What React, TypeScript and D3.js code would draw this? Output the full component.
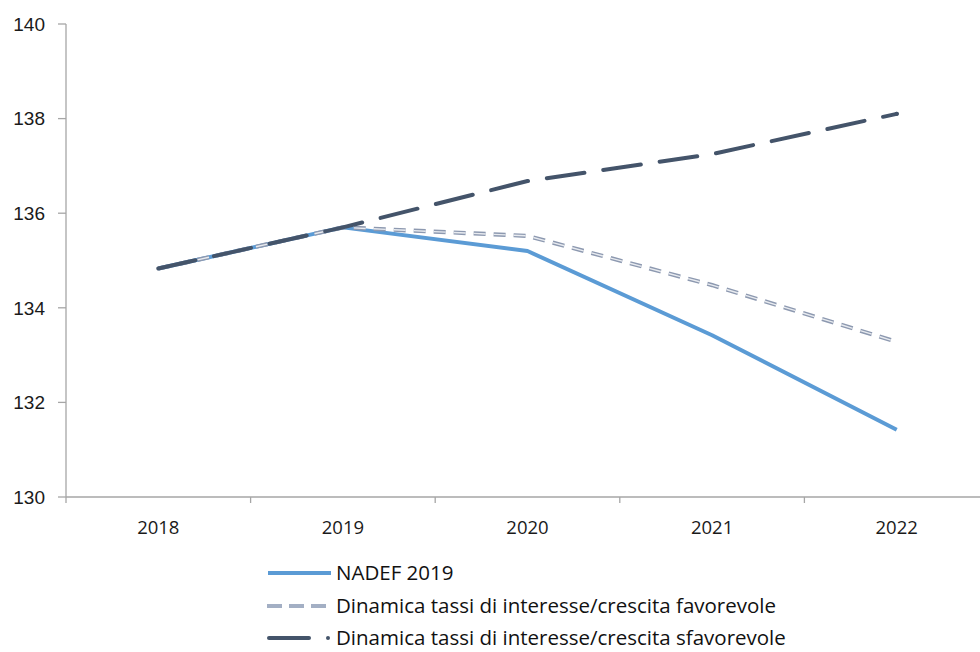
import React from "react";
import * as d3 from "d3";

const years = ["2018", "2019", "2020", "2021", "2022"];
const nadef = [134.83, 135.7, 135.2, 133.42, 131.42];
const favorevole = [134.83, 135.7, 135.52, 134.48, 133.28];
const sfavorevole = [134.83, 135.7, 136.68, 137.25, 138.1];
const yTicks = [130, 132, 134, 136, 138, 140];

const W = 980, H = 652;
const left = 66, top = 24, bottom = 497, right = 989;

export default function App() {
  const x = d3.scaleBand<string>().domain(years).range([left, right]);
  const y = d3.scaleLinear().domain([130, 140]).range([bottom, top]);
  const cx = (d: string) => (x(d) as number) + x.bandwidth() / 2;
  const line = (vals: number[]) =>
    d3.line<number>().x((_, i) => cx(years[i])).y((v) => y(v))(vals) as string;

  const dark = "#44546a";
  const blue = "#5b9bd5";
  const grayBlue = "#8d99b0";
  const axis = "#a6a6a6";
  const xb = x.bandwidth();

  return (
    <svg width={W} height={H} style={{ position: "absolute", left: 0, top: 0, background: "#fff" }}>
      {/* axes */}
      <line x1={left} x2={left} y1={top} y2={bottom} stroke={axis} strokeWidth={1.3} />
      <line x1={left} x2={W} y1={bottom} y2={bottom} stroke={axis} strokeWidth={1.3} />
      {yTicks.map((t) => (
        <g key={t}>
          <line x1={left - 8} x2={left} y1={y(t)} y2={y(t)} stroke={axis} strokeWidth={1.3} />
          <text x={45} y={y(t)} dy="0.36em" textAnchor="end" fontFamily="Liberation Sans, Arial, sans-serif" fontSize={19} fill="#1a1a1a">
            {t}
          </text>
        </g>
      ))}
      {years.map((yr, i) => (
        <g key={yr}>
          <line x1={left + i * xb} x2={left + i * xb} y1={bottom} y2={bottom + 6} stroke={axis} strokeWidth={1.3} />
          <text x={cx(yr)} y={527} dy="0.36em" textAnchor="middle" fontFamily="Open Sans, sans-serif" fontSize={18.5} fill="#1a1a1a">
            {yr}
          </text>
        </g>
      ))}
      {/* series */}
      <path d={line(nadef)} fill="none" stroke={blue} strokeWidth={4} strokeLinejoin="round" />
      <path d={line(favorevole)} fill="none" stroke={grayBlue} strokeWidth={4.2} strokeDasharray="12 8" />
      <path d={line(favorevole)} fill="none" stroke="#e8ebf0" strokeWidth={1.4} strokeDasharray="12 8" />
      <path d={line(sfavorevole)} fill="none" stroke={dark} strokeWidth={4} strokeDasharray="38 19" strokeLinecap="round" />
      <circle cx={cx("2022")} cy={y(sfavorevole[4])} r={2.2} fill={dark} />
      {/* legend */}
      <g fontFamily="Open Sans, sans-serif" fontSize={20.5} fill="#111">
        <line x1={268} x2={331} y1={573} y2={573} stroke={blue} strokeWidth={4} />
        <text x={336} y={573} dy="0.36em">NADEF 2019</text>
        <line x1={267} x2={326} y1={606} y2={606} stroke="#a3afc4" strokeWidth={4.2} strokeDasharray="15 7" />
        <text x={336} y={606} dy="0.36em">Dinamica tassi di interesse/crescita favorevole</text>
        <line x1={269} x2={309} y1={638} y2={638} stroke={dark} strokeWidth={4} strokeLinecap="round" />
        <circle cx={328} cy={638} r={2} fill={dark} />
        <text x={336} y={638} dy="0.36em">Dinamica tassi di interesse/crescita sfavorevole</text>
      </g>
    </svg>
  );
}
